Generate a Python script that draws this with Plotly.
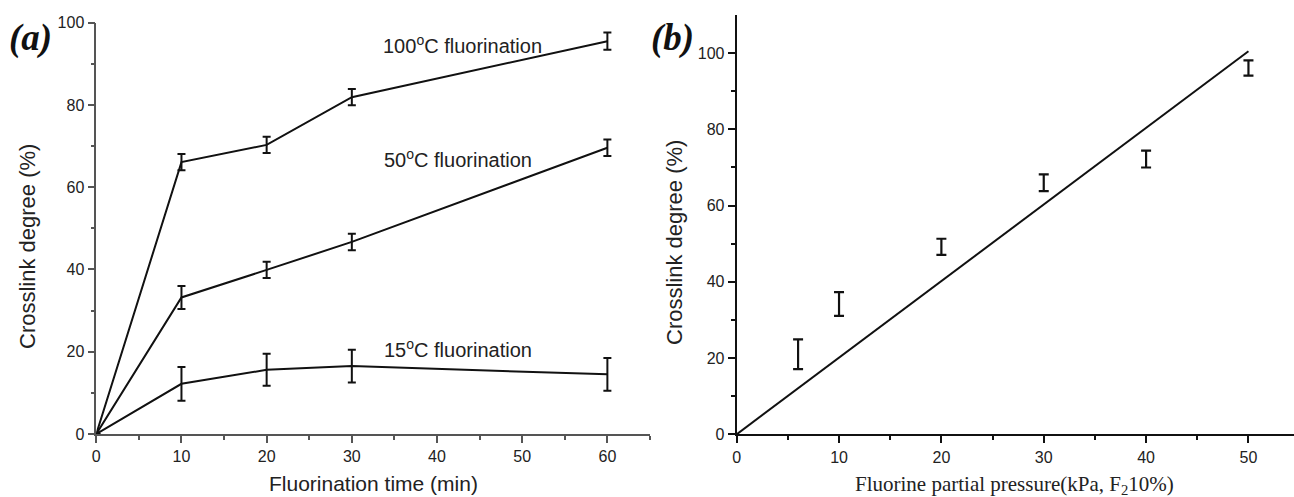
import plotly.graph_objects as go

# ---- Panel (a) data ----
time_min = [0, 10, 20, 30, 60]
deg_100C = [0, 66.1, 70.3, 81.9, 95.5]
err_100C = [0, 2.0, 2.0, 2.0, 2.1]
deg_50C = [0, 33.2, 39.9, 46.7, 69.6]
err_50C = [0, 2.8, 2.0, 2.0, 2.0]
deg_15C = [0, 12.2, 15.6, 16.5, 14.5]
err_15C = [0, 4.1, 3.9, 4.0, 4.0]
series_labels = ["100<sup>o</sup>C fluorination", "50<sup>o</sup>C fluorination", "15<sup>o</sup>C fluorination"]
label_x = [33.4, 33.6, 33.6]
label_y = [94.6, 67.1, 20.8]

# ---- Panel (b) data ----
pressure_kpa = [6, 10, 20, 30, 40, 50]
deg_pressure = [21.0, 34.2, 49.2, 66.0, 72.2, 96.1]
err_pressure = [3.9, 3.1, 2.1, 2.2, 2.2, 2.0]
fit_x = [0, 50]
fit_y = [0, 100.5]

fig = go.Figure()

for ys, es in [(deg_100C, err_100C), (deg_50C, err_50C), (deg_15C, err_15C)]:
    fig.add_trace(go.Scatter(
        x=time_min, y=ys, mode="lines",
        line=dict(color="#111111", width=2),
        error_y=dict(type="data", array=es, visible=True, color="#111111", thickness=2, width=4),
        xaxis="x", yaxis="y", showlegend=False, hoverinfo="skip"))

fig.add_trace(go.Scatter(
    x=fit_x, y=fit_y, mode="lines", line=dict(color="#111111", width=2),
    xaxis="x2", yaxis="y2", showlegend=False, hoverinfo="skip"))
fig.add_trace(go.Scatter(
    x=pressure_kpa, y=deg_pressure, mode="markers",
    marker=dict(size=0.1, color="rgba(0,0,0,0)"),
    error_y=dict(type="data", array=err_pressure, visible=True, color="#111111", thickness=2.2, width=5),
    xaxis="x2", yaxis="y2", showlegend=False, hoverinfo="skip"))

tickfont = dict(family="Liberation Sans, Arial, sans-serif", size=16, color="#222222")

common = dict(showgrid=False, zeroline=False, ticks="outside", ticklen=7, automargin=False,
              tickfont=tickfont, showline=True, mirror=False)

fig.update_layout(
    width=1294, height=497,
    margin=dict(l=0, r=0, t=0, b=0, autoexpand=False),
    paper_bgcolor="white", plot_bgcolor="white",
    xaxis=dict(domain=[0.0744, 0.5023], range=[0, 65], tickvals=[0, 10, 20, 30, 40, 50, 60],
               linecolor="#555555", linewidth=1.5, tickcolor="#555555", tickwidth=1.5,
               minor=dict(tickvals=[5, 15, 25, 35, 45, 55, 65], ticklen=4, ticks="outside",
                          tickcolor="#555555", tickwidth=1.5),
               anchor="y", **common),
    yaxis=dict(domain=[0.1268, 0.9543], range=[0, 100], tickvals=[0, 20, 40, 60, 80, 100],
               linecolor="#555555", linewidth=1.5, tickcolor="#555555", tickwidth=1.5,
               minor=dict(tickvals=[10, 30, 50, 70, 90], ticklen=4, ticks="outside",
                          tickcolor="#555555", tickwidth=1.5),
               anchor="x", **common),
    xaxis2=dict(domain=[0.5693, 1.0], range=[0, 54.45], tickvals=[0, 10, 20, 30, 40, 50],
                linecolor="#111111", linewidth=2, tickcolor="#111111", tickwidth=2,
                minor=dict(tickvals=[5, 15, 25, 35, 45], ticklen=4, ticks="outside",
                           tickcolor="#111111", tickwidth=2),
                anchor="y2", **common),
    yaxis2=dict(domain=[0.1261, 0.9698], range=[0, 110], tickvals=[0, 20, 40, 60, 80, 100],
                linecolor="#111111", linewidth=2, tickcolor="#111111", tickwidth=2,
                minor=dict(tickvals=[10, 30, 50, 70, 90], ticklen=4, ticks="outside",
                           tickcolor="#111111", tickwidth=2),
                anchor="x2", **common),
)

annotations = []
for txt, lx, ly in zip(series_labels, label_x, label_y):
    annotations.append(dict(x=lx, y=ly, xref="x", yref="y", text=txt, showarrow=False,
                            xanchor="left", yanchor="middle",
                            font=dict(family="Liberation Sans, Arial, sans-serif", size=20, color="#222222")))

ytitle_font = dict(family="Liberation Sans, Arial, sans-serif", size=22, color="#222222")
xtitle_font = dict(family="Liberation Sans, Arial, sans-serif", size=21, color="#222222")
serif_title = dict(family="Liberation Serif, Times New Roman, serif", size=21, color="#222222")
panel_font = dict(family="Liberation Serif, Times New Roman, serif", size=37, color="#111111")

annotations += [
    dict(x=27.5 / 1294, y=1 - 246.5 / 497, xref="paper", yref="paper", text="Crosslink degree (%)",
         textangle=-90, showarrow=False, xanchor="center", yanchor="middle", font=ytitle_font),
    dict(x=374 / 1294, y=1 - 483 / 497, xref="paper", yref="paper", text="Fluorination time (min)",
         showarrow=False, xanchor="center", yanchor="middle", font=xtitle_font),
    dict(x=674 / 1294, y=1 - 242 / 497, xref="paper", yref="paper", text="Crosslink degree (%)",
         textangle=-90, showarrow=False, xanchor="center", yanchor="middle", font=ytitle_font),
    dict(x=1014 / 1294, y=1 - 485 / 497, xref="paper", yref="paper",
         text="Fluorine partial pressure(kPa, F<sub>2</sub>10%)",
         showarrow=False, xanchor="center", yanchor="middle", font=serif_title),
    dict(x=30.5 / 1294, y=1 - 38 / 497, xref="paper", yref="paper", text="<b><i>(a)</i></b>",
         showarrow=False, xanchor="center", yanchor="middle", font=panel_font),
    dict(x=672.5 / 1294, y=1 - 37.5 / 497, xref="paper", yref="paper", text="<b><i>(b)</i></b>",
         showarrow=False, xanchor="center", yanchor="middle", font=panel_font),
]
fig.update_layout(annotations=annotations)

fig.write_html("out.html", config={"displayModeBar": False},
               post_script="document.body.style.margin='0';document.body.style.overflow='hidden';")
